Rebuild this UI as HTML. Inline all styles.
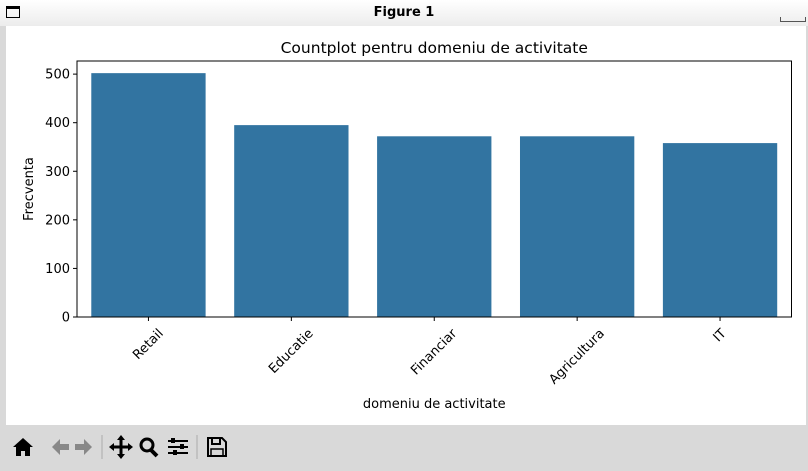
<!DOCTYPE html>
<html><head><meta charset="utf-8"><style>
body{margin:0;width:808px;height:471px;background:#d9d9d9;font-family:"DejaVu Sans","Liberation Sans",sans-serif;overflow:hidden;position:relative}
#titlebar{position:absolute;left:0;top:0;width:808px;height:26px;background:linear-gradient(#fff,#ececec)}
#fig{position:absolute;left:6px;top:26px;width:800px;height:399px;background:#fff}
#toolbar{position:absolute;left:6px;top:425px;width:800px;height:43px;background:#d9d9d9}
</style></head><body>
<div id="titlebar">
<div style="position:absolute;left:6px;top:6px;width:14px;height:12px;border:1px solid #000;border-top-width:3px;box-sizing:border-box"></div>
<div style="position:absolute;left:0;width:808px;top:5px;text-align:center;font-weight:bold;font-size:13px">Figure 1</div>
<div style="position:absolute;left:780px;top:17px;width:24px;height:4px;border:1px solid #555;border-top:none"></div>
</div>
<div id="fig"></div>
<svg id="chart" width="808" height="471" style="position:absolute;left:0;top:0"></svg>
<div id="toolbar">
<svg width="240" height="43" style="position:absolute;left:0;top:0">
<g><path d="M7 22 L17 13 L27 22 L24 22 L24 31 L19 31 L19 26 L15 26 L15 31 L10 31 L10 22Z" fill="#000"/></g>
<g><path d="M46 22 L54 14 L54 19 L63 19 L63 25 L54 25 L54 30Z" fill="#888"/></g>
<g><path d="M86 22 L78 14 L78 19 L69 19 L69 25 L78 25 L78 30Z" fill="#888"/></g>
<line x1="96" y1="10" x2="96" y2="34" stroke="#aaa"/>
<g><path d="M115 12 L115 32 M105 22 L125 22" stroke="#000" stroke-width="3"/><path d="M115 10 L111 15 L119 15Z M115 34 L111 29 L119 29Z M103 22 L108 18 L108 26Z M127 22 L122 18 L122 26Z" fill="#000"/></g>
<g><circle cx="141" cy="20" r="6" stroke="#000" stroke-width="3" fill="none"/><line x1="145" y1="25" x2="151" y2="31" stroke="#000" stroke-width="4"/></g>
<g><path d="M162 16 H182 M162 22 H182 M162 28 H182" stroke="#000" stroke-width="2"/><rect x="165" y="13" width="4" height="5"/><rect x="174" y="19" width="4" height="5"/><rect x="167" y="25" width="4" height="5"/></g>
<line x1="191" y1="10" x2="191" y2="34" stroke="#aaa"/>
<g><path d="M202 13 H216 L220 17 V31 H202Z" fill="none" stroke="#000" stroke-width="2"/><rect x="206" y="13" width="8" height="6" fill="none" stroke="#000" stroke-width="2"/><rect x="205" y="24" width="12" height="7" fill="none" stroke="#000" stroke-width="1.5"/></g>
</svg>
</div>
<script>
const categories=["Retail","Educatie","Financiar","Agricultura","IT"];
const counts=[502,395,372,372,358];
const yTicks=[0,100,200,300,400,500];
const svg=document.getElementById('chart');
const NS='http://www.w3.org/2000/svg';
const L=77,R=791.5,T=61,B=317,YMAX=527;
const y=v=>B-(v/YMAX)*(B-T);
const band=(R-L)/categories.length;
const xc=i=>L+band*(i+0.5);
function mk(t,a){const e=document.createElementNS(NS,t);for(const k in a)e.setAttribute(k,a[k]);svg.appendChild(e);return e;}
categories.forEach((c,i)=>{
 const r=mk('rect',{x:xc(i)-band*0.4,y:y(counts[i]),width:band*0.8,height:B-y(counts[i]),fill:'#3274a1'});
 
 
 const t=mk('line',{x1:xc(i),x2:xc(i),y1:B,y2:B+4,stroke:'#000'});
 
 
 const lb=mk('text',{x:0,y:0,'font-size':13,'text-anchor':'middle','dominant-baseline':'central','font-family':'DejaVu Sans, Liberation Sans, sans-serif'});
 lb.textContent=c;
 const w=lb.getComputedTextLength();
 const half=(w+13)*0.7071/2;
 lb.setAttribute('transform',`translate(${xc(i)},${B+10+half}) rotate(-45)`);
 
 
});
yTicks.forEach(v=>{
 const t=mk('line',{x1:L-4,x2:L,y1:y(v),y2:y(v),stroke:'#000'});
 
 
 const lb=mk('text',{x:L-7,y:y(v)+4.5,'font-size':13,'text-anchor':'end','font-family':'DejaVu Sans, Liberation Sans, sans-serif'});
 lb.textContent=v;
 
 
});
const fr=mk('rect',{x:L,y:T,width:R-L,height:B-T,fill:'none',stroke:'#000','stroke-width':1});


const ti=mk('text',{x:(L+R)/2,y:53,'font-size':15.5,'text-anchor':'middle','font-family':'DejaVu Sans, Liberation Sans, sans-serif'});
ti.textContent='Countplot pentru domeniu de activitate';


const xl=mk('text',{x:(L+R)/2,y:408,'font-size':13,'text-anchor':'middle','font-family':'DejaVu Sans, Liberation Sans, sans-serif'});
xl.textContent='domeniu de activitate';


const yl=mk('text',{x:0,y:0,'font-size':13,'text-anchor':'middle',transform:`translate(33,${(T+B)/2}) rotate(-90)`,'font-family':'DejaVu Sans, Liberation Sans, sans-serif'});
yl.textContent='Frecventa';


</script>
</body></html>
